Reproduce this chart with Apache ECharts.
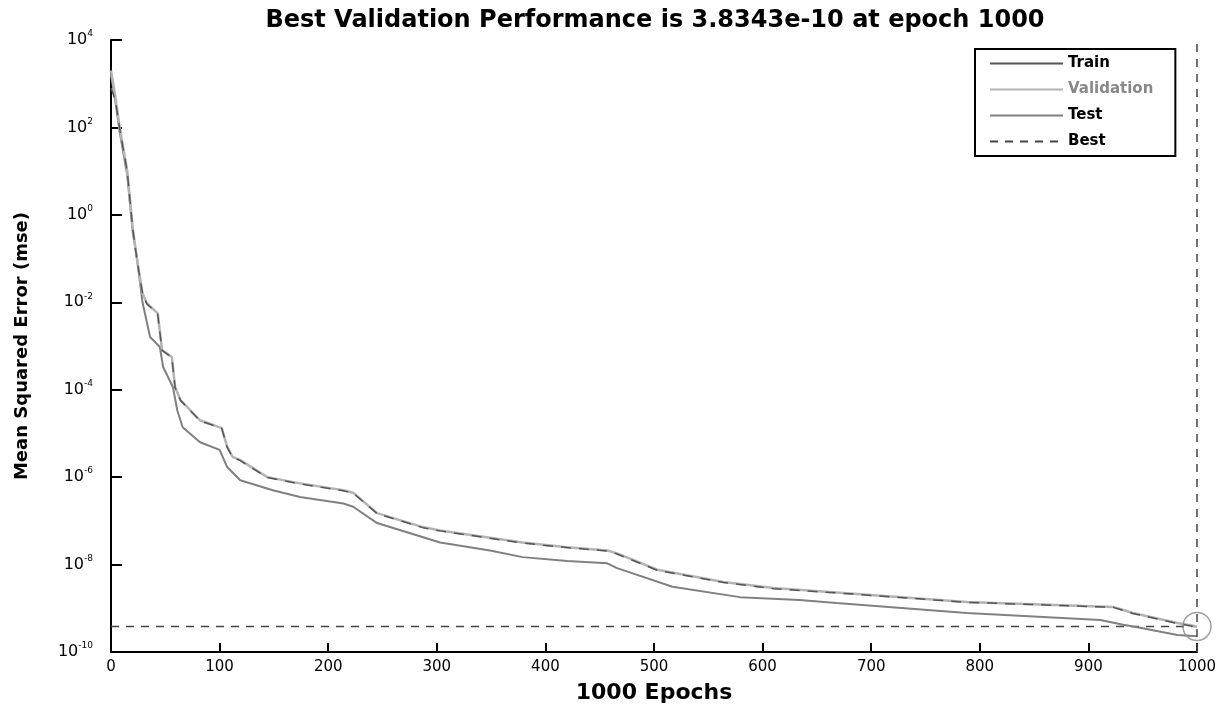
<!DOCTYPE html>
<html><head><meta charset="utf-8">
<script src="https://cdn.jsdelivr.net/npm/echarts@6/dist/echarts.min.js"></script>
<style>html,body{margin:0;padding:0;background:#fff}#c{width:1232px;height:704px}</style>
</head><body><div id="c"></div>
<script>
const titleText = 'Best Validation Performance is 3.8343e-10 at epoch 1000';
const bestEpoch = 1000;
const bestValue = 3.8343e-10;

const valEpochs = [0,4,8,15,20,24,29,33,43,47,56,59,64,82,102,107,112,119,144,174,214,223,245,287,303,349,379,420,457,466,503,564,610,668,788,923,941,982,1000];
const valMse = [2.0e3,5.0e2,1.0e2,10,0.5,0.093,0.0162,0.0095,0.0056,8.1e-4,5.6e-4,1.15e-4,5.8e-5,2.0e-5,1.32e-5,4.9e-6,2.9e-6,2.45e-6,1.0e-6,7.2e-7,5.0e-7,4.4e-7,1.5e-7,7.2e-8,6.0e-8,4.1e-8,3.2e-8,2.5e-8,2.1e-8,1.8e-8,7.6e-9,4.0e-9,2.9e-9,2.3e-9,1.4e-9,1.07e-9,7.8e-10,4.6e-10,3.8343e-10];

const trainMse = [8.0e2,4.2e2,9.5e1,9.5,0.48,0.09,0.016,0.0092,0.0054,7.9e-4,5.5e-4,1.12e-4,5.7e-5,1.95e-5,1.3e-5,4.8e-6,2.85e-6,2.4e-6,9.8e-7,7.0e-7,4.9e-7,4.3e-7,1.47e-7,7.0e-8,5.9e-8,4.0e-8,3.1e-8,2.45e-8,2.05e-8,1.75e-8,7.4e-9,3.9e-9,2.8e-9,2.25e-9,1.37e-9,1.05e-9,7.6e-10,4.5e-10,3.75e-10];

const testEpochs = [0,4,8,15,20,24,29,36,45,48,57,61,66,82,100,107,119,149,174,214,223,245,303,349,379,420,457,466,517,579,634,668,788,911,932,950,982,1000];
const testMse = [1.6e3,4.0e2,79,7.9,0.4,0.1,0.01,1.6e-3,9.5e-4,3.3e-4,1.15e-4,3.4e-5,1.38e-5,6.3e-6,4.2e-6,1.7e-6,8.5e-7,5.0e-7,3.5e-7,2.5e-7,2.1e-7,8.9e-8,3.2e-8,2.1e-8,1.48e-8,1.2e-8,1.07e-8,8.3e-9,3.1e-9,1.8e-9,1.55e-9,1.32e-9,7.8e-10,5.4e-10,4.2e-10,3.5e-10,2.45e-10,2.3e-10];

const xTicks = [0,100,200,300,400,500,600,700,800,900,1000];
const yExponents = [4,2,0,-2,-4,-6,-8,-10];

const FONT = 'DejaVu Sans';
const chart = echarts.init(document.getElementById('c'));
const pairs = (xs, ys) => xs.map((x, i) => [x, ys[i]]);

chart.setOption({
  animation: false,
  backgroundColor: '#fff',
  title: {
    text: titleText, left: 650, top: 4, textAlign: 'center',
    textStyle: {fontFamily: FONT, fontWeight: 'bold', fontSize: 24, color: '#000'}
  },
  legend: {
    left: 975, top: 49, orient: 'vertical',
    data: [
      {name: 'Train', lineStyle: {type: 'solid', color: '#555', width: 2}},
      {name: 'Validation', textStyle: {color: '#888'}},
      {name: 'Test'},
      {name: 'Best'}
    ],
    itemWidth: 73, itemHeight: 14, itemGap: 11,
    itemStyle: {opacity: 0},
    padding: [7, 22, 7, 14],
    borderColor: '#000', borderWidth: 2, borderRadius: 0,
    textStyle: {fontFamily: FONT, fontWeight: 'bold', fontSize: 15, color: '#000'}
  },
  grid: {left: 111, right: 35, top: 40, bottom: 52, outerBoundsMode: 'none', containLabel: false},
  xAxis: {
    type: 'value', min: 0, max: 1000, interval: 100,
    name: '1000 Epochs', nameLocation: 'middle', nameGap: 30,
    nameTextStyle: {fontFamily: FONT, fontWeight: 'bold', fontSize: 22, color: '#000'},
    axisLine: {lineStyle: {color: '#000', width: 2}},
    axisTick: {inside: true, length: 9, lineStyle: {color: '#000', width: 2}},
    axisLabel: {fontFamily: FONT, fontSize: 15, color: '#000', margin: 8,
      formatter: function (v) { return xTicks.indexOf(v) >= 0 ? String(v) : ''; }},
    splitLine: {show: false}
  },
  yAxis: {
    type: 'log', logBase: 10, min: 1e-10, max: 1e4, interval: 2,
    name: 'Mean Squared Error (mse)', nameLocation: 'middle', nameGap: 80,
    nameTextStyle: {fontFamily: FONT, fontWeight: 'bold', fontSize: 18, color: '#000'},
    axisLine: {show: true, lineStyle: {color: '#000', width: 2}},
    axisTick: {show: true, inside: true, length: 11, lineStyle: {color: '#000', width: 2}},
    minorTick: {show: false},
    axisLabel: {
      margin: 18,
      formatter: function (v) {
        const e = Math.round(Math.log10(v));
        if (yExponents.indexOf(e) < 0) return '';
        return '{b|10}{s|' + e + '}';
      },
      rich: {
        b: {fontFamily: FONT, fontSize: 16, color: '#000'},
        s: {fontFamily: FONT, fontSize: 9, color: '#000', padding: [0, 0, 12, 0]}
      }
    },
    splitLine: {show: false}
  },
  series: [
    {name: 'Test', type: 'line', data: pairs(testEpochs, testMse), symbol: 'none',
     lineStyle: {color: '#808080', width: 2}, itemStyle: {color: '#808080'}, z: 2},
    {name: 'Validation', type: 'line', data: pairs(valEpochs, valMse), symbol: 'none',
     lineStyle: {color: '#b4b4b4', width: 2.5}, itemStyle: {color: '#b4b4b4'}, z: 3},
    {name: 'Train', type: 'line', data: pairs(valEpochs, trainMse), symbol: 'none',
     lineStyle: {color: '#555', width: 1.5, type: [10, 8]}, itemStyle: {color: '#555'}, z: 4},
    {name: 'Best', type: 'line', data: [[0, bestValue], [bestEpoch, bestValue]], symbol: 'none',
     lineStyle: {color: '#444', width: 1.5, type: [8, 7]}, itemStyle: {color: '#444'}, z: 1,
     markLine: {silent: true, symbol: 'none', label: {show: false},
       lineStyle: {color: '#444', width: 1.5, type: [8, 7]},
       data: [{xAxis: bestEpoch}]}},
    {name: 'bestPoint', type: 'scatter', data: [[bestEpoch, bestValue]], symbol: 'circle', symbolSize: 28,
     itemStyle: {color: 'rgba(0,0,0,0)', borderColor: '#888', borderWidth: 1.5}, z: 5}
  ]
});
</script></body></html>
